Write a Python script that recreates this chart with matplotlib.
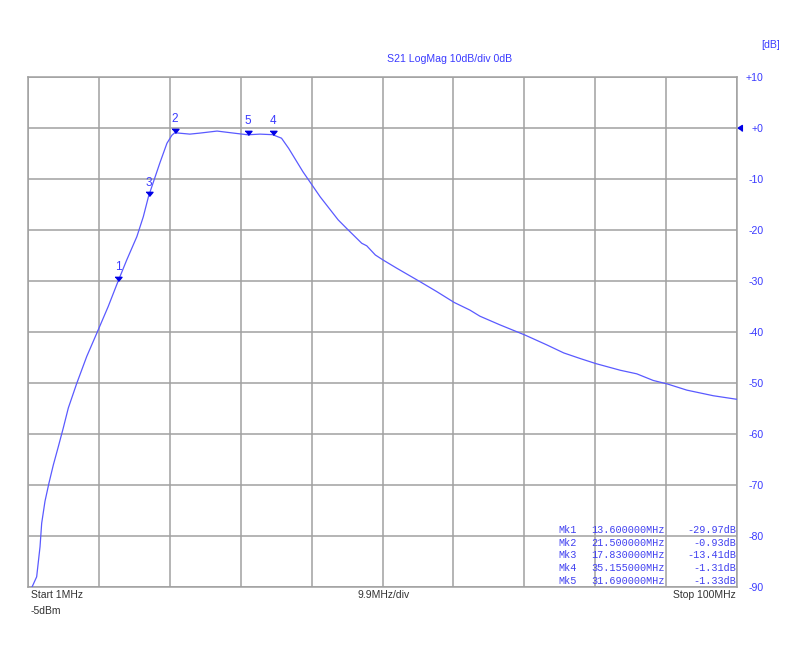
import matplotlib.pyplot as plt
from matplotlib.transforms import blended_transform_factory

# ── data ────────────────────────────────────────────────
freq_mhz = [1.0, 1.5, 2.21, 2.68, 2.91, 3.37, 3.93, 4.53, 5.23, 5.93, 6.63, 7.8,
            9.2, 10.8, 12.2, 13.6, 14.78, 16.2, 17.1, 17.83, 19.4, 20.4, 21.1,
            21.5, 23.6, 25.0, 27.4, 29.7, 31.69, 33.4, 35.155, 36.4, 37.4,
            39.4, 41.8, 44.3, 45.5, 47.6, 48.3, 49.5, 50.6, 52.5, 55.7, 58.1,
            60.5, 62.7, 64.1, 66.9, 70.4, 73.4, 75.8, 78.1, 80.3, 83.7, 86.0,
            88.3, 90.3, 93.0, 96.7, 100.0]
s21_db = [-90.6, -90.2, -88.0, -82.1, -77.5, -73.2, -69.6, -66.1, -62.5, -58.8,
          -54.9, -50.1, -44.8, -39.6, -35.0, -29.97, -25.9, -21.3, -17.4,
          -13.41, -6.9, -3.0, -1.4, -0.93, -1.2, -1.0, -0.6, -1.0, -1.33, -1.2,
          -1.31, -2.0, -4.0, -8.6, -13.5, -18.0, -19.7, -22.6, -23.1, -24.9,
          -25.9, -27.5, -30.1, -32.1, -34.2, -35.7, -36.9, -38.6, -40.6, -42.5,
          -44.1, -45.2, -46.2, -47.5, -48.2, -49.5, -50.2, -51.4, -52.5, -53.2]

mk_names = ["Mk1", "Mk2", "Mk3", "Mk4", "Mk5"]
mk_labels = ["1", "2", "3", "4", "5"]
mk_freq = [13.6, 21.5, 17.83, 35.155, 31.69]
mk_db = [-29.97, -0.93, -13.41, -1.31, -1.33]

y_ticks = [10, 0, -10, -20, -30, -40, -50, -60, -70, -80, -90]
y_ticklabels = ["+10", "+0", "-10", "-20", "-30", "-40", "-50", "-60", "-70", "-80", "-90"]

BLUE = "#3a3aff"
TRACE = "#5a5aff"
MKBLUE = "#0000e6"
GRID = "#a0a0a0"
plt.rcParams['font.family'] = ['Liberation Sans', 'DejaVu Sans']

W, H = 800, 672
fig = plt.figure(figsize=(W / 100, H / 100), dpi=100)
ax = fig.add_axes([28 / W, 1 - 587 / H, (737 - 28) / W, (587 - 77) / H])

def px(x, y):
    return x / W, 1 - y / H

# ── grid / frame ────────────────────────────────────────
ax.set_xlim(1, 100)
ax.set_ylim(-90, 10)
ax.set_xticks([1 + 9.9 * i for i in range(11)])
ax.set_xticklabels([])
ax.tick_params(axis="x", length=0)
ax.set_yticks(y_ticks)
ax.set_yticklabels(y_ticklabels)
ax.yaxis.tick_right()
ax.tick_params(axis="y", length=0, pad=19, labelsize=7.6, labelcolor=BLUE)
for lab in ax.get_yticklabels():
    lab.set_horizontalalignment("right")
ax.grid(True, color=GRID, lw=1.1)
for s in ax.spines.values():
    s.set_color(GRID)
    s.set_linewidth(1.1)

# ── trace ───────────────────────────────────────────────
ax.plot(freq_mhz, s21_db, color=TRACE, lw=0.9, zorder=3)

# ── markers (tip on the trace) ──────────────────────────
tri_down = [(-1, 1.2), (1, 1.2), (0, 0)]
ax.plot(mk_freq, mk_db, ls="none", marker=tri_down, ms=6, color=MKBLUE, zorder=4)
for f, d, lab in zip(mk_freq, mk_db, mk_labels):
    ax.annotate(lab, (f, d), xytext=(0, 5.5), textcoords="offset points",
                ha="center", va="bottom", fontsize=8.5, color=BLUE)

# reference level arrow at the right edge
ref = blended_transform_factory(ax.transAxes, ax.transData)
tri_left = [(0, 0), (1.6, 1), (1.6, -1)]
ax.plot([1.0], [0], marker=tri_left, ms=7, color=MKBLUE, transform=ref, clip_on=False)

# ── texts ───────────────────────────────────────────────
fig.text(*px(450, 59), "S21 LogMag 10dB/div 0dB", ha="center", va="center",
         fontsize=7.6, color=BLUE)
fig.text(*px(780, 45), "[dB]", ha="right", va="center", fontsize=7.6, color=BLUE)
fig.text(*px(31, 595), "Start 1MHz", ha="left", va="center", fontsize=7.5, color="#333333")
fig.text(*px(31, 611), "-5dBm", ha="left", va="center", fontsize=7.5, color="#333333")
fig.text(*px(384, 595), "9.9MHz/div", ha="center", va="center", fontsize=7.5, color="#333333")
fig.text(*px(736, 595), "Stop 100MHz", ha="right", va="center", fontsize=7.5, color="#333333")

# marker table
for i, (n, f, d) in enumerate(zip(mk_names, mk_freq, mk_db)):
    y = 530 + i * 12.7
    kw = dict(va="center", fontsize=7.3, color="#4040f0", family="Liberation Mono")
    fig.text(*px(558, y), n, ha="left", **kw)
    fig.text(*px(665, y), f"{f:.6f}MHz", ha="right", **kw)
    fig.text(*px(736, y), f"{d:.2f}dB", ha="right", **kw)

fig.savefig("out.png", dpi=100)
